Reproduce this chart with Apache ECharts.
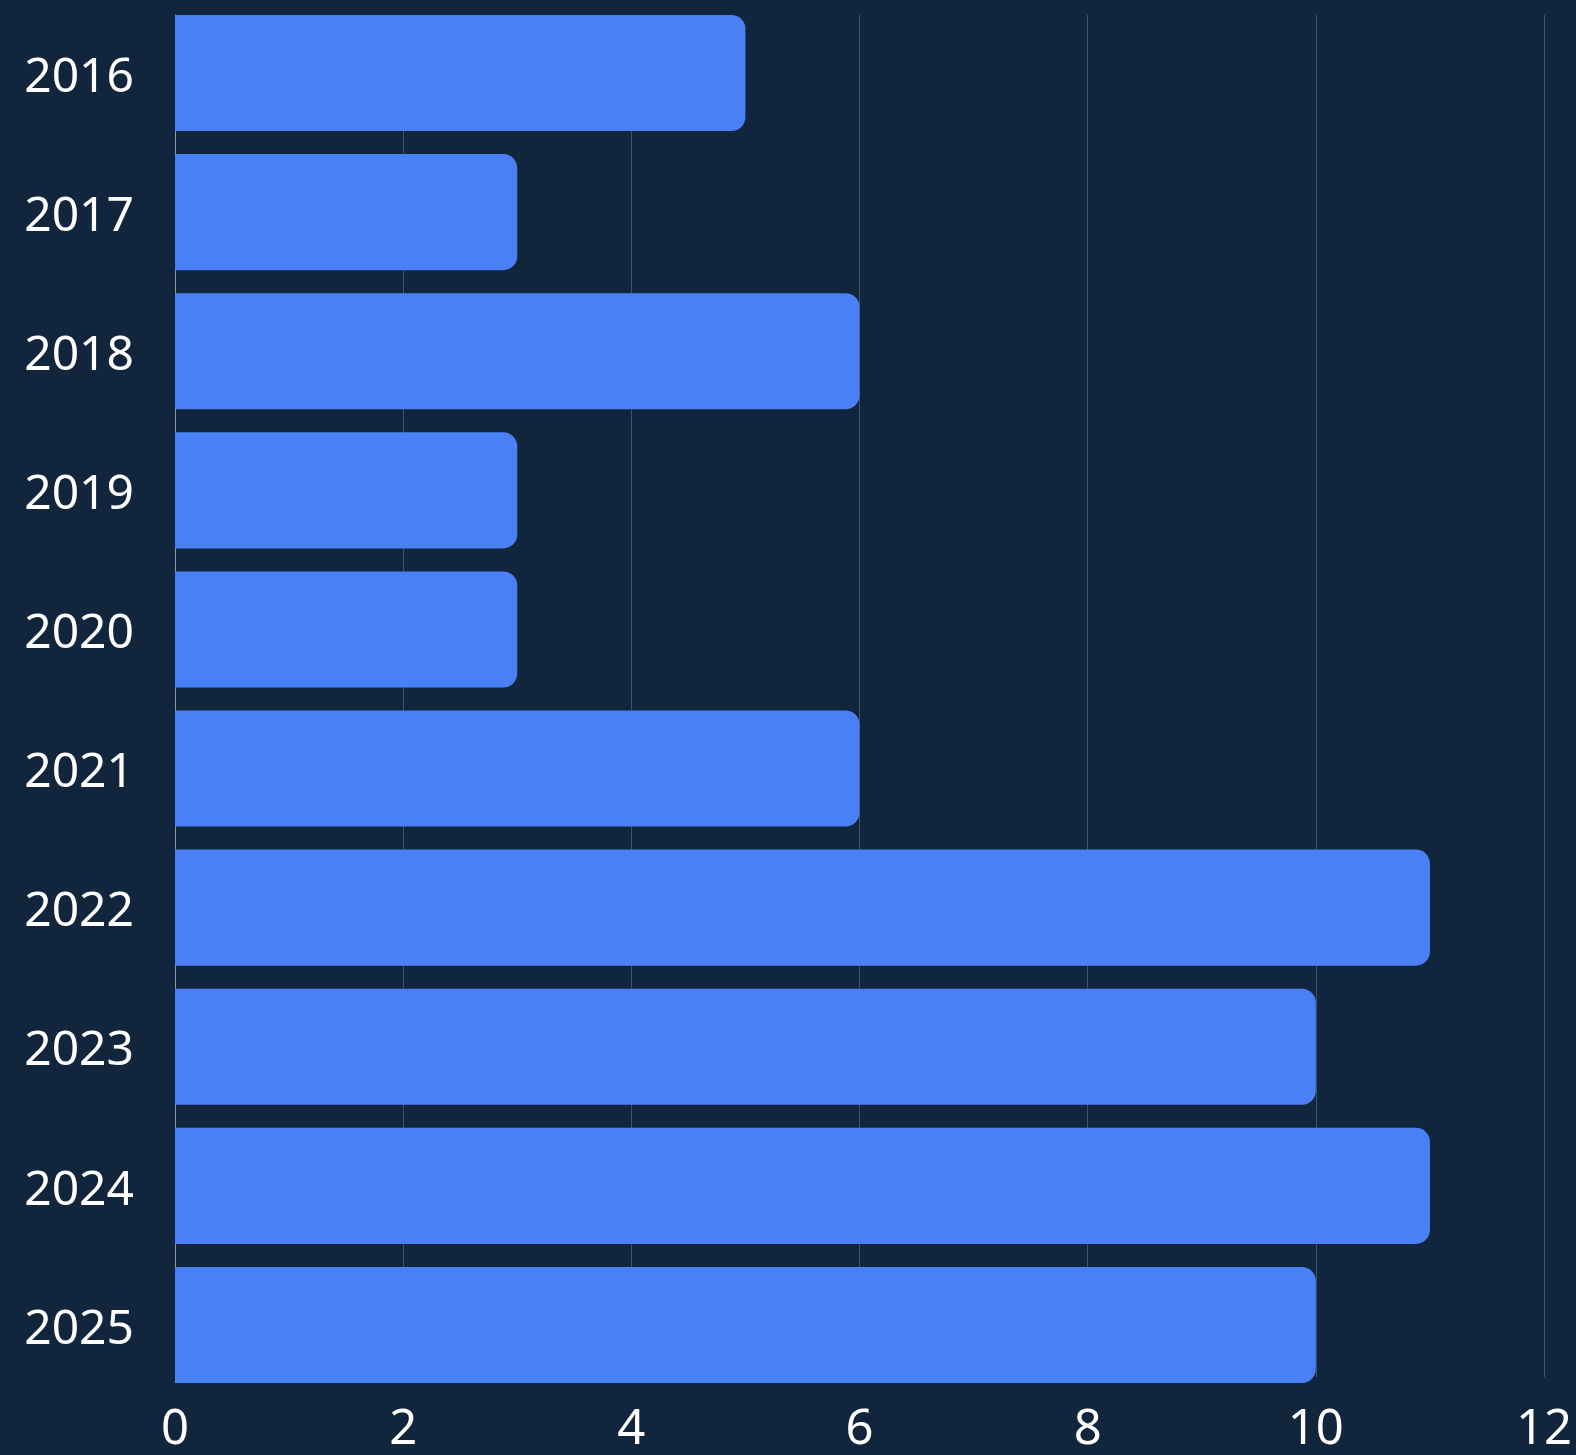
<!DOCTYPE html>
<html>
<head>
<meta charset="utf-8">
<script src="https://cdn.jsdelivr.net/npm/echarts@6/dist/echarts.min.js"></script>
<style>
html,body{margin:0;padding:0;background:#11263d;}
#c{width:1576px;height:1455px;}
</style>
</head>
<body>
<div id="c"></div>
<script>
const categories = ['2016','2017','2018','2019','2020','2021','2022','2023','2024','2025'];
const values = [5, 3, 6, 3, 3, 6, 11, 10, 11, 10];
const xTicks = [0, 2, 4, 6, 8, 10, 12];

const xMin = xTicks[0], xMax = xTicks[xTicks.length - 1];
const chart = echarts.init(document.getElementById('c'));
chart.setOption({
  backgroundColor: '#11263d',
  animation: false,
  grid: [
    { left: 175, right: 32, top: 15, bottom: 72, containLabel: false },
    { left: 175, right: 32, top: 3.5, bottom: 60.5, containLabel: false }
  ],
  xAxis: [
    {
      gridIndex: 0, type: 'value', min: xMin, max: xMax, interval: 2,
      axisLine: { show: false }, axisTick: { show: false },
      splitLine: { show: true, lineStyle: { color: '#3e536b', width: 1 } },
      axisLabel: { color: '#ffffff', fontSize: 49, fontFamily: 'Noto Sans', margin: 29 }
    },
    {
      gridIndex: 1, type: 'value', min: xMin, max: xMax, interval: 2, show: false,
      splitLine: { show: false }
    }
  ],
  yAxis: [
    {
      gridIndex: 0, type: 'category', data: categories, inverse: true,
      axisLine: { show: true, lineStyle: { color: '#8a97a6', width: 1 } },
      axisTick: { show: false }, axisLabel: { show: false }
    },
    {
      gridIndex: 1, type: 'category', data: categories, inverse: true,
      axisLine: { show: false }, axisTick: { show: false },
      axisLabel: {
        margin: 41,
        formatter: function (v) { return '{y|' + v + '}'; },
        rich: { y: { color: '#ffffff', fontSize: 48, fontFamily: 'Noto Sans', padding: [10, 0, 0, 0] } }
      }
    }
  ],
  series: [{
    type: 'bar', xAxisIndex: 1, yAxisIndex: 1, data: values, barCategoryGap: '16.5%',
    itemStyle: { color: '#4a80f5', borderRadius: [0, 14, 14, 0] }
  }]
});
</script>
</body>
</html>
